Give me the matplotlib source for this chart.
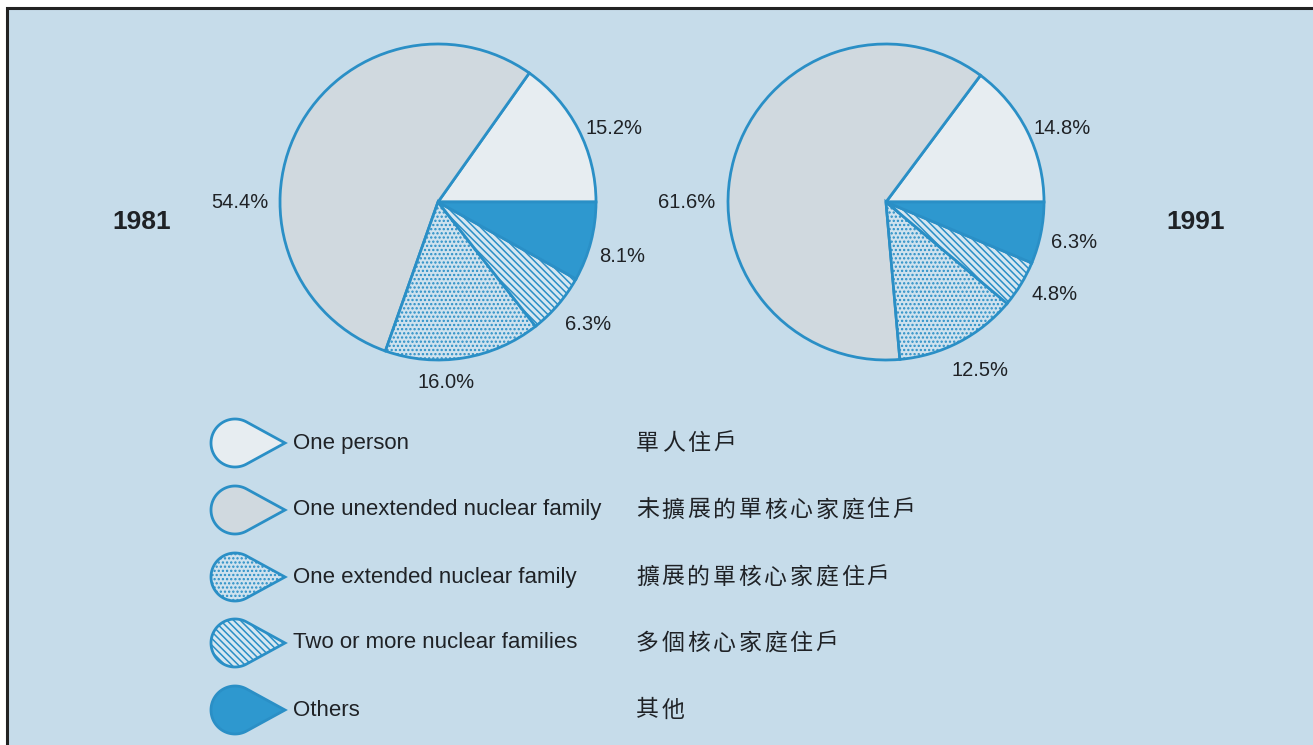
import numpy as np
import matplotlib
matplotlib.use("Agg")
import matplotlib.pyplot as plt
from matplotlib.patches import Rectangle, Polygon

# ---------------- data ----------------
categories_en = ["One person", "One unextended nuclear family",
                 "One extended nuclear family", "Two or more nuclear families",
                 "Others"]
categories_zh = ["單人住戶", "未擴展的單核心家庭住戶", "擴展的單核心家庭住戶",
                 "多個核心家庭住戶", "其他"]
years = ["1981", "1991"]
values_1981 = [15.2, 54.4, 16.0, 6.3, 8.1]
values_1991 = [14.8, 61.6, 12.5, 4.8, 6.3]

# ---------------- style ----------------
W, H = 1313, 745
BG = "#c6dcea"
EDGE = "#2a8fc6"
fills = ["#e7edf1", "#d0d9df", "#cfe2ee", "#d6e7f1", "#2e98cf"]
hatches = ["", "", "....", "\\\\\\\\\\", ""]
plt.rcParams["hatch.linewidth"] = 1.1

EN_FONT = ["Liberation Sans", "DejaVu Sans"]
ZH_FONT = ["Noto Sans CJK TC", "DejaVu Sans"]
TXT = "#1f2226"

fig = plt.figure(figsize=(W / 100, H / 100), dpi=100, facecolor="white")
ax = fig.add_axes([0, 0, 1, 1])
ax.set_xlim(0, W)
ax.set_ylim(0, H)
ax.axis("off")

def Y(py):
    return H - py

# panel background with border
ax.add_patch(Rectangle((7, -5), W + 10, Y(8) + 5, facecolor=BG,
                       edgecolor="#222222", linewidth=2.2, zorder=0))

# ---------------- pies ----------------
centers = [(438, 202), (886, 202)]
radius = 158
all_values = [values_1981, values_1991]
for (cx, cy), vals in zip(centers, all_values):
    wedges, _ = ax.pie(vals, colors=fills, startangle=0, counterclock=True,
                       center=(cx, Y(cy)), radius=radius, frame=True,
                       wedgeprops=dict(edgecolor=EDGE, linewidth=2.0))
    for w, h in zip(wedges, hatches):
        w.set_hatch(h)
        w.set_zorder(2)

# percentage labels (layout positions)
label_pos = [
    [(614, 128), (240, 203), (446, 382), (588, 324), (622, 257)],
    [(1062, 128), (687, 203), (980, 370), (1055, 294), (1074, 242)],
]
for vals, poss in zip(all_values, label_pos):
    for v, (px, py) in zip(vals, poss):
        ax.text(px, Y(py), f"{v:.1f}%", fontsize=14.5, family=EN_FONT,
                color=TXT, ha="center", va="center", zorder=5)

# year labels
ax.text(142, Y(222), years[0], fontsize=19, family=EN_FONT, weight="bold",
        color=TXT, ha="center", va="center")
ax.text(1196, Y(222), years[1], fontsize=19, family=EN_FONT, weight="bold",
        color=TXT, ha="center", va="center")

# ---------------- legend ----------------
ax.set_xlim(0, W)
ax.set_ylim(0, H)
ax.set_aspect("equal")

def teardrop(cx, cy, r=24, tip=50):
    a = np.arccos(r / tip)
    t = np.linspace(a, 2 * np.pi - a, 80)
    xs = cx + r * np.cos(t)
    ys = cy + r * np.sin(t)
    xs = np.append(xs, cx + tip)
    ys = np.append(ys, cy)
    return np.column_stack([xs, ys])

leg_y = [443, 510, 577, 643, 710]
for i, (en, zh, ly) in enumerate(zip(categories_en, categories_zh, leg_y)):
    poly = Polygon(teardrop(235, Y(ly)), closed=True, facecolor=fills[i],
                   edgecolor=EDGE, linewidth=2.0, hatch=hatches[i], zorder=3)
    ax.add_patch(poly)
    ax.text(293, Y(ly), en, fontsize=16, family=EN_FONT, color=TXT,
            ha="left", va="center")
    for k, ch in enumerate(zh):
        ax.text(636 + k * 25.6, Y(ly), ch, fontsize=16.5, family=ZH_FONT,
                color=TXT, ha="left", va="center")

fig.savefig("out.png", dpi=100, facecolor="white")
